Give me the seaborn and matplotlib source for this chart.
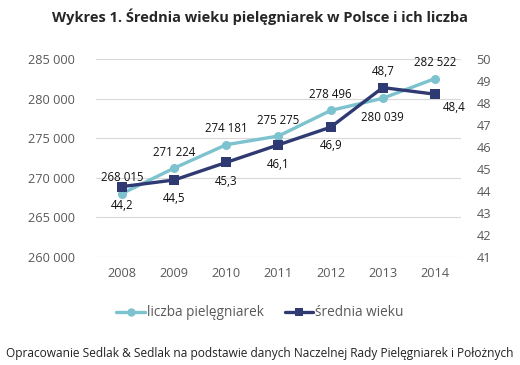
import matplotlib
matplotlib.use("Agg")
import matplotlib.pyplot as plt
import seaborn as sns
import pandas as pd
from matplotlib.lines import Line2D
from matplotlib.ticker import FuncFormatter

years = [2008, 2009, 2010, 2011, 2012, 2013, 2014]
liczba = [268015, 271224, 274181, 275275, 278496, 280039, 282522]
wiek = [44.2, 44.5, 45.3, 46.1, 46.9, 48.7, 48.4]
left_ticks = [260000, 265000, 270000, 275000, 280000, 285000]
right_ticks = [41, 42, 43, 44, 45, 46, 47, 48, 49, 50]

title = "Wykres 1. Średnia wieku pielęgniarek w Polsce i ich liczba"
source = "Opracowanie Sedlak & Sedlak na podstawie danych Naczelnej Rady Pielęgniarek i Położnych"
name_l = "liczba pielęgniarek"
name_r = "średnia wieku"

c_light = "#7cc2cf"
c_dark = "#2f3a72"
grey = "#595959"

sns.set_theme(style="white")
plt.rcParams["font.family"] = ["Open Sans", "DejaVu Sans"]

df = pd.DataFrame({"rok": years, "liczba": liczba, "wiek": wiek})

fig = plt.figure(figsize=(5.2, 3.65), dpi=100)
ax = fig.add_axes([0.1846, 0.2959, 0.7019, 0.5425])
ax2 = ax.twinx()

sns.lineplot(data=df, x="rok", y="liczba", ax=ax, color=c_light, lw=2.4,
             marker="o", markersize=6.5, markeredgewidth=0, zorder=3)
sns.lineplot(data=df, x="rok", y="wiek", ax=ax2, color=c_dark, lw=2.4,
             marker="s", markersize=6.5, markeredgewidth=0, zorder=3)

ax.set_xlim(2007.5, 2014.5)
ax.set_ylim(left_ticks[0], left_ticks[-1])
ax2.set_ylim(right_ticks[0], right_ticks[-1])
ax.set_yticks(left_ticks)
ax2.set_yticks(right_ticks)
ax.set_xticks(years)
ax.yaxis.set_major_formatter(FuncFormatter(lambda v, p: f"{int(v):,}".replace(",", " ")))
ax.set_xlabel("")
ax.set_ylabel("")
ax2.set_ylabel("")
ax.grid(axis="y", color="#d9d9d9", lw=0.8)
ax.grid(axis="x", visible=False)
ax2.grid(False)
for a in (ax, ax2):
    for s in a.spines.values():
        s.set_visible(False)
    a.tick_params(length=0, labelsize=9.2, colors=grey)
ax.tick_params(axis="y", pad=15)
ax2.tick_params(axis="y", pad=11)
ax.tick_params(axis="x", pad=7)

fmt_l = lambda v: f"{v:,}".replace(",", " ")
fmt_r = lambda v: f"{v:.1f}".replace(".", ",")
off_l = [(0, 16), (0, 16), (0, 16), (0, 16), (0, 16), (0, -19), (0, 16)]
off_r = [(0, -19), (0, -19), (0, -19), (0, -20), (0, -18), (0, 16), (19, -13)]
for x, v, o in zip(years, liczba, off_l):
    ax.annotate(fmt_l(v), (x, v), xytext=o, textcoords="offset pixels",
                ha="center", va="center", fontsize=8.3, color="#111111", zorder=5)
for x, v, o in zip(years, wiek, off_r):
    ax2.annotate(fmt_r(v), (x, v), xytext=o, textcoords="offset pixels",
                 ha="center", va="center", fontsize=8.3, color="#111111", zorder=5)

handles = [Line2D([], [], color=c_light, lw=2.4, marker="o", markersize=6, markeredgewidth=0),
           Line2D([], [], color=c_dark, lw=2.4, marker="s", markersize=6, markeredgewidth=0)]
leg = fig.legend(handles, [name_l, name_r], loc="center", bbox_to_anchor=(0.5, 1 - 313 / 365),
                 ncol=2, frameon=False, fontsize=9.8, handlelength=2.1, handletextpad=0.15,
                 columnspacing=1.5)
for t in leg.get_texts():
    t.set_color(grey)

fig.text(0.5, 1 - 17 / 365, title, ha="center", va="center", fontsize=10.5,
         fontweight="bold", color="#262626")
fig.text(0.5, 1 - 354 / 365, source, ha="center", va="center", fontsize=8.6, color="#222222")

fig.savefig("out.png", dpi=100)
